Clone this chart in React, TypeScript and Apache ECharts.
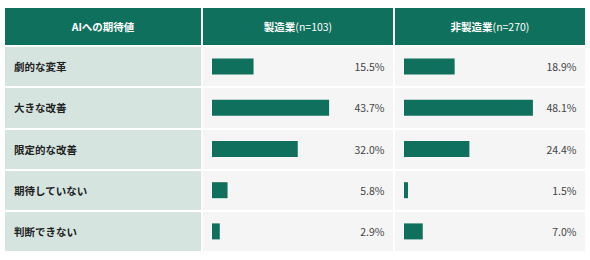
import React, { useEffect, useRef } from "react";
import * as echarts from "echarts";

const categories = ["劇的な変革", "大きな改善", "限定的な改善", "期待していない", "判断できない"];
const manufacturing = [15.5, 43.7, 32.0, 5.8, 2.9];
const nonManufacturing = [18.9, 48.1, 24.4, 1.5, 7.0];
const headerLabel = "AIへの期待値";
const groupNames = ["製造業", "非製造業"];
const groupCounts = ["(n=103)", "(n=270)"];

const GREEN = "#0f705d";
const LABEL_BG = "#d6e4df";
const CELL_BG = "#f5f5f5";
const FONT = "'Noto Sans CJK JP', 'Noto Sans', sans-serif";

export default function App() {
  const ref = useRef<HTMLDivElement>(null);
  useEffect(() => {
    if (!ref.current) return;
    const chart = echarts.init(ref.current, undefined, { renderer: "svg" });
    const top = 46;
    const height = 206;
    const cols = [
      { left: 5, width: 196 },
      { left: 203, width: 190 },
      { left: 395, width: 190 },
    ];
    const pxPerPct = 2.68;
    const pad = 9;
    const splitStyle = (color: string) => ({
      splitArea: { show: true, interval: 0, areaStyle: { color: [color] } },
      splitLine: { show: true, interval: 0, lineStyle: { color: "#ffffff", width: 2 } },
    });
    const fmt = (v: number) => v.toFixed(1) + "%";
    const seriesData = [manufacturing, nonManufacturing];

    const grids = cols.map((c) => ({ left: c.left, width: c.width, top, height, containLabel: false }));
    const xAxes = cols.map((c, i) => ({
      type: "value",
      gridIndex: i,
      min: i === 0 ? 0 : -pad / pxPerPct,
      max: i === 0 ? 1 : (c.width - pad) / pxPerPct,
      show: false,
    }));
    const yAxes: any[] = [
      {
        type: "category",
        gridIndex: 0,
        data: categories,
        inverse: true,
        position: "left",
        axisLine: { show: false },
        axisTick: { show: false, interval: 0 },
        axisLabel: {
          inside: true,
          interval: 0,
          margin: 9,
          align: "left",
          color: "#222",
          fontWeight: "bold",
          fontSize: 10.5,
          fontFamily: FONT,
        },
        ...splitStyle(LABEL_BG),
      },
    ];
    const series: any[] = [];
    seriesData.forEach((vals, k) => {
      const gi = k + 1;
      const catIdx = yAxes.length;
      yAxes.push({
        type: "category",
        gridIndex: gi,
        data: categories,
        inverse: true,
        position: "left",
        axisLine: { show: false },
        axisTick: { show: false, interval: 0 },
        axisLabel: { show: false, interval: 0 },
        ...splitStyle(CELL_BG),
      });
      yAxes.push({
        type: "category",
        gridIndex: gi,
        data: vals.map(fmt),
        inverse: true,
        position: "right",
        axisLine: { show: false },
        axisTick: { show: false },
        splitLine: { show: false },
        axisLabel: {
          inside: true,
          interval: 0,
          margin: 8.5,
          align: "right",
          color: "#444",
          fontSize: 10.5,
          fontFamily: FONT,
        },
      });
      series.push({
        type: "bar",
        xAxisIndex: gi,
        yAxisIndex: catIdx,
        data: vals,
        barWidth: 16,
        itemStyle: { color: GREEN },
        silent: true,
      });
    });

    const headerY = 8;
    const headerH = 37;
    const graphic: any[] = [];
    cols.forEach((c) => {
      graphic.push({
        type: "rect",
        shape: { x: c.left, y: headerY, width: c.width, height: headerH },
        style: { fill: GREEN },
        z: 1,
      });
    });
    graphic.push({
      type: "text",
      x: cols[0].left + cols[0].width / 2,
      y: headerY + headerH / 2,
      z: 2,
      style: {
        text: headerLabel,
        align: "center",
        verticalAlign: "middle",
        fill: "#ffffff",
        font: `bold 10.5px ${FONT}`,
      },
    });
    groupNames.forEach((name, k) => {
      const c = cols[k + 1];
      graphic.push({
        type: "text",
        x: c.left + c.width / 2,
        y: headerY + headerH / 2,
        z: 2,
        style: {
          text: `{b|${name}}{n|${groupCounts[k]}}`,
          align: "center",
          verticalAlign: "middle",
          fill: "#ffffff",
          rich: {
            b: { fontWeight: "bold", fontSize: 10.5, fontFamily: FONT, fill: "#ffffff", color: "#ffffff" },
            n: { fontWeight: "normal", fontSize: 10.5, fontFamily: FONT, fill: "#ffffff", color: "#ffffff" },
          },
        },
      });
    });

    chart.setOption({
      animation: false,
      backgroundColor: "#ffffff",
      grid: grids,
      xAxis: xAxes,
      yAxis: yAxes,
      series,
      graphic,
    });
    return () => chart.dispose();
  }, []);
  return (
    <div
      ref={ref}
      style={{ position: "fixed", left: 0, top: 0, width: 590, height: 260 }}
    />
  );
}
